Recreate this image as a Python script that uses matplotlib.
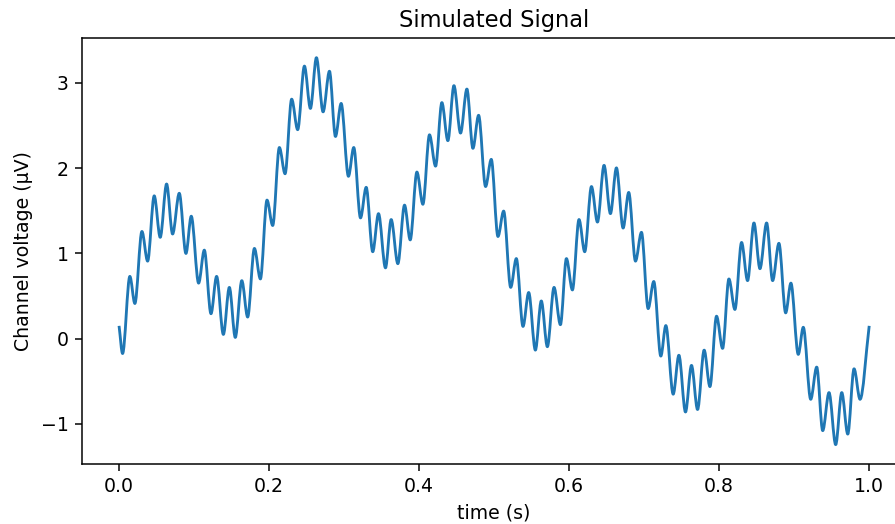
import numpy as np
import matplotlib
matplotlib.use("Agg")
import matplotlib.pyplot as plt
from matplotlib.path import Path
from matplotlib.patches import PathPatch

# Signal: start point, successive local extrema, end point
time_s = [0.0, 0.0045, 0.0142, 0.0209, 0.0303, 0.0379, 0.0467, 0.0547, 0.0632, 0.0712,
          0.0801, 0.0890, 0.0961, 0.1059, 0.1135, 0.1224, 0.1299, 0.1389, 0.1469, 0.1548,
          0.1635, 0.1713, 0.1803, 0.1883, 0.1971, 0.2047, 0.2136, 0.2212, 0.2300, 0.2380,
          0.2470, 0.2550, 0.2630, 0.2719, 0.2804, 0.2884, 0.2960, 0.3057, 0.3128, 0.3218,
          0.3294, 0.3381, 0.3458, 0.3551, 0.3627, 0.3716, 0.3805, 0.3881, 0.3970, 0.4050,
          0.4138, 0.4219, 0.4303, 0.4383, 0.4464, 0.4552, 0.4637, 0.4717, 0.4793, 0.4886,
          0.4962, 0.5051, 0.5127, 0.5221, 0.5296, 0.5385, 0.5461, 0.5550, 0.5629, 0.5710,
          0.5799, 0.5884, 0.5964, 0.6044, 0.6132, 0.6208, 0.6298, 0.6378, 0.6466, 0.6551,
          0.6631, 0.6720, 0.6795, 0.6885, 0.6965, 0.7054, 0.7129, 0.7223, 0.7290, 0.7388,
          0.7464, 0.7552, 0.7632, 0.7713, 0.7801, 0.7878, 0.7966, 0.8047, 0.8131, 0.8211,
          0.8300, 0.8380, 0.8465, 0.8545, 0.8634, 0.8714, 0.8798, 0.8888, 0.8958, 0.9056,
          0.9123, 0.9222, 0.9302, 0.9382, 0.9466, 0.9555, 0.9636, 0.9716, 0.9800, 0.9880,
          1.0]
voltage_uv = [0.132, -0.176, 0.729, 0.411, 1.256, 0.908, 1.674, 1.187, 1.813, 1.226,
              1.704, 0.998, 1.435, 0.650, 1.037, 0.291, 0.729, 0.048, 0.600, 0.013,
              0.679, 0.252, 1.057, 0.699, 1.624, 1.326, 2.241, 1.933, 2.808, 2.450,
              3.196, 2.699, 3.295, 2.659, 3.136, 2.370, 2.758, 1.903, 2.241, 1.415,
              1.774, 1.018, 1.465, 0.829, 1.396, 0.878, 1.565, 1.157, 1.953, 1.575,
              2.390, 2.022, 2.768, 2.321, 2.967, 2.410, 2.927, 2.231, 2.619, 1.783,
              2.102, 1.197, 1.495, 0.600, 0.938, 0.142, 0.540, -0.136, 0.441, -0.096,
              0.600, 0.162, 0.938, 0.570, 1.396, 1.018, 1.783, 1.366, 2.032, 1.465,
              2.002, 1.296, 1.714, 0.908, 1.246, 0.351, 0.669, -0.206, 0.152, -0.653,
              -0.196, -0.862, -0.315, -0.833, -0.136, -0.564, 0.262, -0.116, 0.699, 0.341,
              1.127, 0.679, 1.356, 0.819, 1.356, 0.679, 1.117, 0.301, 0.650, -0.186,
              0.132, -0.713, -0.335, -1.081, -0.634, -1.245, -0.634, -1.121, -0.355, -0.713,
              0.132]

title = "Simulated Signal"
x_label = "time (s)"
y_label = "Channel voltage (µV)"

DPI = 136
fig = plt.figure(figsize=(895 / DPI, 524 / DPI), dpi=DPI)
ax = fig.add_axes([0.0913, 0.1145, 0.9216, 0.8124])

# Smooth curve through the extrema (horizontal tangents at each extremum)
t = np.asarray(time_s)
v = np.asarray(voltage_uv)
n = len(t)
verts = [(t[0], v[0])]
codes = [Path.MOVETO]
for i in range(n - 1):
    dt = t[i + 1] - t[i]
    if i == 0:
        c1 = (t[i] + dt / 3, v[i] + (v[i + 1] - v[i]) / 3)
    else:
        c1 = (t[i] + dt / 3, v[i])
    if i == n - 2:
        c2 = (t[i + 1] - dt / 3, v[i + 1] - (v[i + 1] - v[i]) / 3)
    else:
        c2 = (t[i + 1] - dt / 3, v[i + 1])
    verts += [c1, c2, (t[i + 1], v[i + 1])]
    codes += [Path.CURVE4, Path.CURVE4, Path.CURVE4]

patch = PathPatch(Path(verts, codes), facecolor="none", edgecolor="#1f77b4",
                  linewidth=1.5, capstyle="projecting", joinstyle="round")
ax.add_patch(patch)
ax.update_datalim(np.column_stack([t, v]))
ax.autoscale_view()

ax.set_title(title)
ax.set_xlabel(x_label)
ax.set_ylabel(y_label)

fig.savefig("out.png", dpi=DPI)
